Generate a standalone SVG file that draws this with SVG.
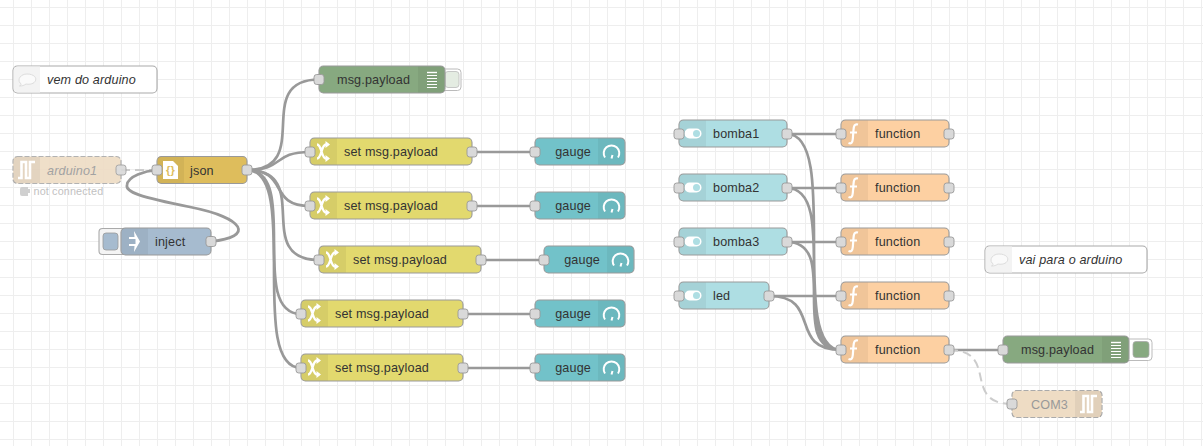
<svg xmlns="http://www.w3.org/2000/svg" width="1203" height="446" viewBox="0 0 1203 446">
<style>
text{font-family:"Liberation Sans",Arial,sans-serif;font-size:12.6px;fill:#333;letter-spacing:.15px}
.n{stroke:#999;stroke-width:1.1}
.t{fill:#000;fill-opacity:.05}
.p{fill:#d9d9d9;stroke:#999;stroke-width:.9}
.l{fill:none;stroke:#999;stroke-width:2.7}
.d{fill:none;stroke:#ccc;stroke-width:2;stroke-dasharray:9 5}
.i{fill:none;stroke:#fff}
.w{fill:#fff}
.e{text-anchor:end}
.it{font-style:italic}
.c{fill:#fff;stroke:#aaa;stroke-width:1.1}
.sw{fill:#E2D96E}.fn{fill:#FDD0A2}.ga{fill:#72C2C9}.ui{fill:#AEDEE3}.db{fill:#87A980}
.dash{stroke-dasharray:5 2}
</style>
<defs>
<pattern id="g" x="13" y="7" width="18" height="18" patternUnits="userSpaceOnUse"><path d="M0 .5H18M.5 0V18" fill="none" stroke="#eee" stroke-width="1"/></pattern>
<rect id="pt" x="-5" y="-5" width="10" height="10" rx="2.700" class="p"/>
<g id="ic-ch"><path class="i" stroke-width="2.400" d="M7 6.500C12 6.500 11 20.500 16 20.500M7 20.500C12 20.500 11 6.500 16 6.500"/><path class="w" d="M15.500 3L20 6.500 15.500 10ZM15.500 17L20 20.500 15.500 24Z"/></g>
<g id="ic-fn"><path class="i" stroke-width="2.200" d="M17 4.500C13.500 3.500 12.800 6 12.500 10L11.800 19C11.500 23 10 24 7.500 23M9 12.500H16"/></g>
<g id="ic-sw"><rect x="5.500" y="8.500" width="17" height="10" rx="5" class="w"/><circle cx="17.500" cy="13.500" r="3.500" fill="#AEDEE3"/></g>
<g id="ic-ga"><path class="i" stroke-width="2" d="M7 19.500A7.800 7.800 0 1 1 20 19.500M13.500 20.500L14.500 17"/></g>
<g id="ic-db"><path class="i" stroke-width="1.100" d="M9 6.500H19M9 9.500H19M9 12.500H19M9 15.500H19M9 18.500H19M9 21.500H19"/><path class="i" stroke-width="1.400" d="M9 6.500H19"/></g>
<g id="ic-se"><path fill="none" stroke="#fff" stroke-width="2.600" d="M5 21.500H8.500V5.500H13V21.500H17V5.500H22"/></g>
<g id="ic-cm"><path fill="#fafafa" stroke="#ddd" d="M7 20C8.500 18 8.500 18 7 17C4 13 8 8 14 8C21 8 24.500 12 22 15.500C20 18.500 15 18.500 13 18C11 19.500 9 20 6.500 20Z"/></g>
</defs>
<rect width="1203" height="446" fill="#fff"/>
<rect width="1203" height="446" fill="url(#g)"/>
<g id="connectors">
<path class="d" d="M121 170H157"/>
<path class="l" d="M211 241.500C255 237 245 218 190 207C140 197 125 192 127 185C128 176 145 171 157 170"/>
<path class="l" d="M247 170C315 170 251 79.500 319 79.500"/>
<path class="l" d="M247 170C285 170 272 152 310 152"/>
<path class="l" d="M247 170C290 170 267 206 310 206"/>
<path class="l" d="M247 170C315 170 251 260 319 260"/>
<path class="l" d="M247 170C301 170 247 314 301 314"/>
<path class="l" d="M247 170C301 170 247 368 301 368"/>
<path class="l" d="M472 152H535M472 206H535M481 260H544M463 314H535M463 368H535"/>
<path class="l" d="M787 134H841M787 188H841M787 242H841M769 296H841"/>
<path class="l" d="M787 134C841 134 787 350 841 350M787 188C841 188 787 350 841 350M787 242C841 242 787 350 841 350M769 296C823 296 787 350 841 350"/>
<path class="l" d="M949 350H1003"/>
<path class="d" d="M949 350C1000 350 961 404 1012 404"/>
</g>
<g id="comment1"><rect class="c" x="13" y="66" width="144" height="27" rx="4.500"/><path d="M18 66.600H40V92.400H18Q13.600 92.400 13.600 88V71Q13.600 66.600 18 66.600Z" fill="#f3f3f3"/><use href="#ic-cm" x="13" y="66"/><text class="it" x="47" y="84">vem do arduino</text></g>
<g id="arduino1" opacity=".9"><rect class="dash" x="13" y="156.500" width="108" height="27" rx="4.500" fill="#eedcc4" stroke="#aaa" stroke-width="1.200"/><rect class="t" x="14" y="157" width="26" height="26"/><use href="#ic-se" x="13" y="156.500"/><text class="it" x="47" y="174.500" style="fill:#999">arduino1</text><use href="#pt" x="121" y="170"/><path d="M22 187H28V189H30V193H28V196H22Q20 196 20 194V189Q20 187 22 187Z" fill="#ccc"/><text x="33.500" y="195" style="fill:#bbb;font-size:10.800px">not connected</text></g>
<g id="json"><rect class="n" x="157" y="156.500" width="90" height="27" rx="4.500" fill="#DEBD5C"/><rect class="t" x="158" y="157" width="26" height="26"/><path class="w" d="M163 161H173L178 166V179H163Z"/><text x="170.500" y="174" text-anchor="middle" style="fill:#DEBD5C;font-size:11px;font-weight:bold">{}</text><text x="190" y="174.500">json</text><use href="#pt" x="157" y="170"/><use href="#pt" x="247" y="170"/></g>
<g id="inject"><rect x="99" y="228.500" width="26" height="26" rx="3.500" fill="#f4f4f4" stroke="#aaa" stroke-width="1.100"/><rect x="103" y="233" width="15" height="17" rx="3" fill="#A6BBCF" stroke="#999" stroke-width=".8"/><rect class="n" x="121" y="228" width="90" height="27" rx="4.500" fill="#A6BBCF"/><rect class="t" x="122" y="228.500" width="26" height="26"/><path class="w" d="M134 231L140 241.500 134 252 134.500 246H129V244H135.500V239H129V237H134.500Z"/><text x="155" y="246">inject</text><use href="#pt" x="211" y="241.500"/></g>
<g id="debug1"><rect x="440" y="69" width="21" height="21.500" rx="3.500" fill="#fff" stroke="#bbb"/><rect x="445" y="71.500" width="14" height="16" rx="3" fill="#e4ece2" stroke="#bbb" stroke-width=".8"/><rect class="n" x="319" y="66" width="126" height="27" rx="4.500" fill="#87A980"/><rect class="t" x="418" y="66.500" width="26" height="26"/><use href="#ic-db" x="418" y="66"/><text x="337" y="84">msg.payload</text><use href="#pt" x="319" y="79.500"/></g>
<g id="change1"><rect class="n sw" x="310" y="138" width="162" height="27" rx="4.500"/><rect class="t" x="311" y="138.500" width="26" height="26"/><use href="#ic-ch" x="310" y="138"/><text x="344" y="156">set msg.payload</text><use href="#pt" x="310" y="152"/><use href="#pt" x="472" y="152"/></g>
<g id="change2"><rect class="n sw" x="310" y="192" width="162" height="27" rx="4.500"/><rect class="t" x="311" y="192.500" width="26" height="26"/><use href="#ic-ch" x="310" y="192"/><text x="344" y="210">set msg.payload</text><use href="#pt" x="310" y="206"/><use href="#pt" x="472" y="206"/></g>
<g id="change3"><rect class="n sw" x="319" y="246" width="162" height="27" rx="4.500"/><rect class="t" x="320" y="246.500" width="26" height="26"/><use href="#ic-ch" x="319" y="246"/><text x="353" y="264">set msg.payload</text><use href="#pt" x="319" y="260"/><use href="#pt" x="481" y="260"/></g>
<g id="change4"><rect class="n sw" x="301" y="300" width="162" height="27" rx="4.500"/><rect class="t" x="302" y="300.500" width="26" height="26"/><use href="#ic-ch" x="301" y="300"/><text x="335" y="318">set msg.payload</text><use href="#pt" x="301" y="314"/><use href="#pt" x="463" y="314"/></g>
<g id="change5"><rect class="n sw" x="301" y="354" width="162" height="27" rx="4.500"/><rect class="t" x="302" y="354.500" width="26" height="26"/><use href="#ic-ch" x="301" y="354"/><text x="335" y="372">set msg.payload</text><use href="#pt" x="301" y="368"/><use href="#pt" x="463" y="368"/></g>
<g id="gauge1"><rect class="n ga" x="535" y="138" width="90" height="27" rx="4.500"/><rect class="t" x="598" y="138.500" width="26" height="26"/><use href="#ic-ga" x="598" y="138"/><text class="e" x="591" y="156">gauge</text><use href="#pt" x="535" y="152"/></g>
<g id="gauge2"><rect class="n ga" x="535" y="192" width="90" height="27" rx="4.500"/><rect class="t" x="598" y="192.500" width="26" height="26"/><use href="#ic-ga" x="598" y="192"/><text class="e" x="591" y="210">gauge</text><use href="#pt" x="535" y="206"/></g>
<g id="gauge3"><rect class="n ga" x="544" y="246" width="90" height="27" rx="4.500"/><rect class="t" x="607" y="246.500" width="26" height="26"/><use href="#ic-ga" x="607" y="246"/><text class="e" x="600" y="264">gauge</text><use href="#pt" x="544" y="260"/></g>
<g id="gauge4"><rect class="n ga" x="535" y="300" width="90" height="27" rx="4.500"/><rect class="t" x="598" y="300.500" width="26" height="26"/><use href="#ic-ga" x="598" y="300"/><text class="e" x="591" y="318">gauge</text><use href="#pt" x="535" y="314"/></g>
<g id="gauge5"><rect class="n ga" x="535" y="354" width="90" height="27" rx="4.500"/><rect class="t" x="598" y="354.500" width="26" height="26"/><use href="#ic-ga" x="598" y="354"/><text class="e" x="591" y="372">gauge</text><use href="#pt" x="535" y="368"/></g>
<g id="bomba1"><rect class="n ui" x="679" y="120" width="108" height="27" rx="4.500"/><rect class="t" x="680" y="120.500" width="26" height="26"/><use href="#ic-sw" x="679" y="120"/><text x="713" y="138">bomba1</text><use href="#pt" x="679" y="134"/><use href="#pt" x="787" y="134"/></g>
<g id="bomba2"><rect class="n ui" x="679" y="174" width="108" height="27" rx="4.500"/><rect class="t" x="680" y="174.500" width="26" height="26"/><use href="#ic-sw" x="679" y="174"/><text x="713" y="192">bomba2</text><use href="#pt" x="679" y="188"/><use href="#pt" x="787" y="188"/></g>
<g id="bomba3"><rect class="n ui" x="679" y="228" width="108" height="27" rx="4.500"/><rect class="t" x="680" y="228.500" width="26" height="26"/><use href="#ic-sw" x="679" y="228"/><text x="713" y="246">bomba3</text><use href="#pt" x="679" y="242"/><use href="#pt" x="787" y="242"/></g>
<g id="led"><rect class="n ui" x="679" y="282" width="90" height="27" rx="4.500"/><rect class="t" x="680" y="282.500" width="26" height="26"/><use href="#ic-sw" x="679" y="282"/><text x="713" y="300">led</text><use href="#pt" x="679" y="296"/><use href="#pt" x="769" y="296"/></g>
<g id="function1"><rect class="n fn" x="841" y="120" width="108" height="27" rx="4.500"/><rect class="t" x="842" y="120.500" width="26" height="26"/><use href="#ic-fn" x="841" y="120"/><text x="875" y="138">function</text><use href="#pt" x="841" y="134"/><use href="#pt" x="949" y="134"/></g>
<g id="function2"><rect class="n fn" x="841" y="174" width="108" height="27" rx="4.500"/><rect class="t" x="842" y="174.500" width="26" height="26"/><use href="#ic-fn" x="841" y="174"/><text x="875" y="192">function</text><use href="#pt" x="841" y="188"/><use href="#pt" x="949" y="188"/></g>
<g id="function3"><rect class="n fn" x="841" y="228" width="108" height="27" rx="4.500"/><rect class="t" x="842" y="228.500" width="26" height="26"/><use href="#ic-fn" x="841" y="228"/><text x="875" y="246">function</text><use href="#pt" x="841" y="242"/><use href="#pt" x="949" y="242"/></g>
<g id="function4"><rect class="n fn" x="841" y="282" width="108" height="27" rx="4.500"/><rect class="t" x="842" y="282.500" width="26" height="26"/><use href="#ic-fn" x="841" y="282"/><text x="875" y="300">function</text><use href="#pt" x="841" y="296"/><use href="#pt" x="949" y="296"/></g>
<g id="function5"><rect class="n fn" x="841" y="336" width="108" height="27" rx="4.500"/><rect class="t" x="842" y="336.500" width="26" height="26"/><use href="#ic-fn" x="841" y="336"/><text x="875" y="354">function</text><use href="#pt" x="841" y="350"/><use href="#pt" x="949" y="350"/></g>
<g id="comment2"><rect class="c" x="985" y="246" width="162" height="27" rx="4.500"/><path d="M990 246.600H1012V272.400H990Q985.600 272.400 985.600 268V251Q985.600 246.600 990 246.600Z" fill="#f3f3f3"/><use href="#ic-cm" x="985" y="246"/><text class="it" x="1019" y="264">vai para o arduino</text></g>
<g id="debug2"><rect x="1125" y="339" width="27" height="21.500" rx="3.500" fill="#fff" stroke="#bbb"/><rect x="1133" y="341.500" width="16" height="16" rx="3" fill="#87A980" stroke="#aaa" stroke-width=".8"/><rect class="n db" x="1003" y="336" width="126" height="27" rx="4.500"/><rect class="t" x="1102" y="336.500" width="26" height="26"/><use href="#ic-db" x="1102" y="336"/><text x="1021" y="354">msg.payload</text><use href="#pt" x="1003" y="350"/></g>
<g id="com3"><rect class="dash" x="1012" y="390.500" width="90" height="27" rx="4.500" fill="#eedcc4" stroke="#aaa" stroke-width="1.200"/><rect class="t" x="1075" y="391" width="26" height="26"/><use href="#ic-se" x="1075" y="390.500"/><text class="e" x="1068" y="408.500" style="fill:#999">COM3</text><use href="#pt" x="1012" y="404"/></g>
</svg>
